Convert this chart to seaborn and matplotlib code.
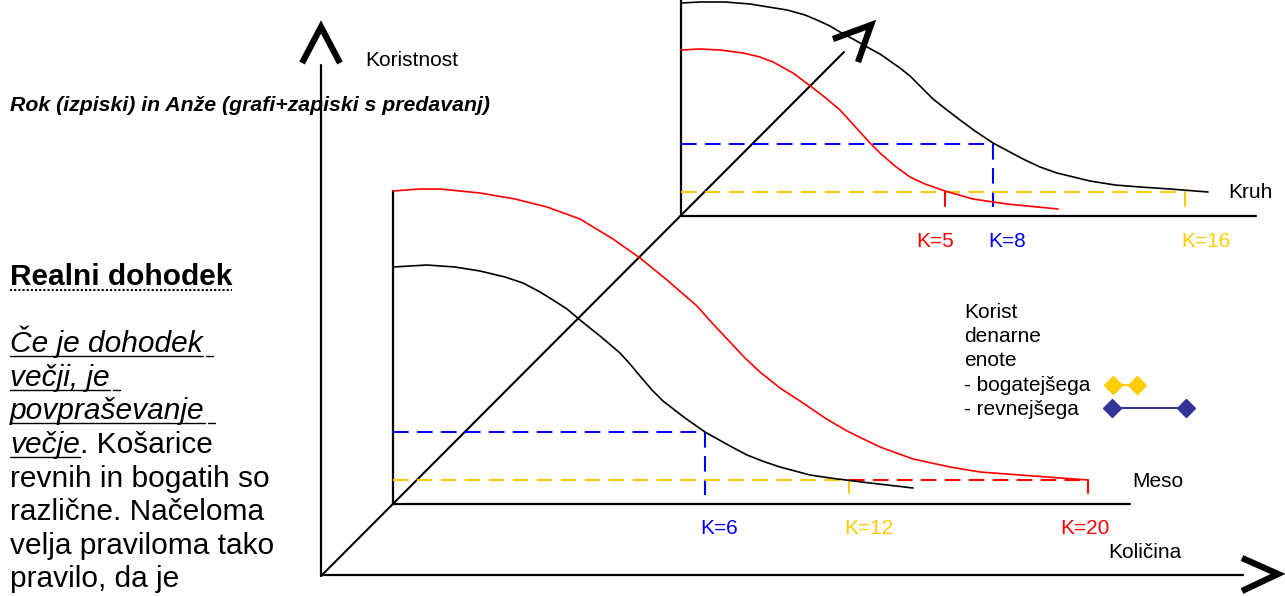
#!/usr/bin/env python3

"""Utility curves for Meso / Kruh, rich vs poor (lecture notes sketch)."""

import matplotlib
matplotlib.use("Agg")
import matplotlib.pyplot as plt
import seaborn as sns
import pandas as pd

####################################################################################################
# DATA (pixel coordinates, y grows downwards)

# Meso panel
MESO_RED_X = [393, 420, 440, 480, 515, 547, 580, 613, 640, 667, 697, 713, 730, 745, 760, 780,
              800, 825, 847, 880, 913, 950, 980, 1020, 1047, 1088]
MESO_RED_Y = [191, 189, 189, 193, 199, 207, 219, 239, 258, 280, 306, 324, 342, 358, 372, 388,
              401, 418, 431, 447, 459, 467, 472, 475, 477, 480]
MESO_BLACK_X = [393, 427, 455, 480, 505, 523, 540, 553, 567, 580, 600, 620, 630, 640, 652, 663,
                685, 705, 730, 747, 765, 780, 810, 830, 870, 913]
MESO_BLACK_Y = [267, 265, 267, 271, 277, 283, 292, 300, 309, 320, 336, 353, 364, 376, 390, 401,
                418, 432, 446, 455, 462, 467, 475, 478, 483, 488]

# Kruh panel
KRUH_BLACK_X = [681, 700, 725, 750, 787, 805, 817, 830, 840, 853, 867, 880, 890, 900, 910, 920,
                933, 947, 960, 975, 993, 1023, 1040, 1057, 1090, 1115, 1140, 1170, 1208]
KRUH_BLACK_Y = [3, 2, 2, 4, 10, 15, 20, 26, 32, 39, 47, 54, 61, 68, 76, 86,
                99, 110, 120, 131, 143, 159, 167, 173, 181, 185, 187, 189, 192]
KRUH_RED_X = [681, 700, 720, 743, 760, 773, 793, 813, 827, 840, 850, 860, 870, 880, 895, 910,
              925, 945, 973, 1007, 1058]
KRUH_RED_Y = [50, 49, 50, 53, 57, 62, 73, 88, 99, 110, 121, 132, 143, 153, 166, 177,
              184, 191, 199, 204, 209]

# K labels
MESO_K_LABELS = ["K=6", "K=12", "K=20"]
KRUH_K_LABELS = ["K=5", "K=8", "K=16"]

TITLE = "Rok (izpiski) in Anže (grafi+zapiski s predavanj)"
LEGEND_LINES = ["Korist", "denarne", "enote", "- bogatejšega", "- revnejšega"]
PARAGRAPH = ["različne. Načeloma", "velja praviloma tako", "pravilo, da je"]

####################################################################################################

RED = "#ff0000"
BLUE = "#0000ff"
GOLD = "#ffcc00"
NAVY = "#333399"
DASH = (0, (7.5, 4))

sns.set_theme(style="white")
plt.rcParams["font.family"] = ["Liberation Sans", "DejaVu Sans"]
plt.rcParams["text.color"] = "black"

fig = plt.figure(figsize=(12.85, 5.96), dpi=100)
ax = fig.add_axes([0, 0, 1, 1])


def line(x, y, color="black", lw=1.2, ls="-", **kw):
    df = pd.DataFrame({"x": x, "y": y})
    sns.lineplot(data=df, x="x", y="y", sort=False, estimator=None, color=color,
                 linewidth=lw, linestyle=ls, ax=ax, **kw)


def chevron(x, y):
    ax.plot(x, y, color="black", lw=4.5, solid_joinstyle="miter", solid_capstyle="butt")


# main axes + depth axis
line([321, 321], [65, 576], lw=1.6)
line([321, 1243], [575, 575], lw=1.6)
line([321, 844], [576, 52], lw=1.5)
chevron([302, 321, 340], [63, 27, 63])
chevron([1242, 1278, 1242], [558, 574, 591])
chevron([833, 871, 858], [39, 25, 62])

# Meso panel
line([393, 393], [191, 504], lw=1.6)
line([393, 1130], [504, 504], lw=1.6)
line([393, 705], [432, 432], BLUE, 1.5, DASH)
line([705, 705], [432, 495], BLUE, 1.5, DASH)
line([393, 849], [480, 480], GOLD, 1.5, DASH)
line([849, 849], [480, 493], GOLD, 1.5)
line([849, 1088], [480, 480], RED, 1.5, DASH)
line([1088, 1088], [480, 493], RED, 1.5)
line(MESO_BLACK_X, MESO_BLACK_Y, "black", 1.2)
line(MESO_RED_X, MESO_RED_Y, RED, 1.2)

# Kruh panel
line([681, 681], [0, 216], lw=1.6)
line([681, 1256], [216, 216], lw=1.6)
line([681, 993], [144, 144], BLUE, 1.5, DASH)
line([993, 993], [144, 207], BLUE, 1.5, DASH)
line([681, 1185], [192, 192], GOLD, 1.5, DASH)
line([1185, 1185], [192, 206], GOLD, 1.5)
line([945, 945], [192, 206], RED, 1.5)
line(KRUH_BLACK_X, KRUH_BLACK_Y, "black", 1.2)
line(KRUH_RED_X, KRUH_RED_Y, RED, 1.2)

ax.set_xlim(0, 1285)
ax.set_ylim(596, 0)
ax.axis("off")

# labels
FS = 15
ax.text(365, 66, "Koristnost", fontsize=FS)
ax.text(10, 111, TITLE, fontsize=15.3, fontweight="bold", fontstyle="italic")
ax.text(1132, 487, "Meso", fontsize=FS)
ax.text(1108, 558, "Količina", fontsize=FS)
ax.text(1228, 198, "Kruh", fontsize=FS)
for lab, xx, col in zip(MESO_K_LABELS, [700, 844, 1060], [BLUE, GOLD, RED]):
    ax.text(xx, 534, lab, fontsize=FS, color=col)
for lab, xx, col in zip(KRUH_K_LABELS, [916, 988, 1181], [RED, BLUE, GOLD]):
    ax.text(xx, 247, lab, fontsize=FS, color=col)

# legend
for i, lab in enumerate(LEGEND_LINES):
    ax.text(964, 318 + 24.2 * i, lab, fontsize=FS)
ax.plot([1113, 1137], [385, 385], color=GOLD, lw=1.5, marker="D", ms=9)
ax.plot([1112, 1186], [408, 408], color=NAVY, lw=1.5, marker="D", ms=9)

# left text block
PFS = 21.5
renderer = fig.canvas.get_renderer()


def x_extent(t):
    bb = t.get_window_extent(renderer)
    inv = ax.transData.inverted()
    (x0, _), (x1, _) = inv.transform([[bb.x0, bb.y0], [bb.x1, bb.y1]])
    return x0, x1


head = ax.text(10, 285, "Realni dohodek", fontsize=PFS, fontweight="bold")
x0, x1 = x_extent(head)
ax.plot([x0, x1], [289.5, 289.5], color="black", lw=1.5, ls=(0, (1, 1)))

italic_lines = [("Če je dohodek", 352), ("večji, je", 386), ("povpraševanje", 419)]
for txt, yb in italic_lines:
    t = ax.text(10, yb, txt, fontsize=PFS, fontstyle="italic")
    x0, x1 = x_extent(t)
    ax.plot([x0, x1], [yb + 3.5, yb + 3.5], color="black", lw=1.0)
    ax.plot([x1 + 3, x1 + 10], [yb + 3.5, yb + 3.5], color="black", lw=1.0)

t = ax.text(10, 453, "večje", fontsize=PFS, fontstyle="italic")
x0, x1 = x_extent(t)
ax.plot([x0, x1], [456.5, 456.5], color="black", lw=1.0)
ax.text(x1, 453, ". Košarice", fontsize=PFS)
ax.text(10, 487, "revnih in bogatih so", fontsize=PFS)
for i, txt in enumerate(PARAGRAPH):
    ax.text(10, 520 + 33.6 * i, txt, fontsize=PFS)

fig.savefig("out.png", dpi=100)
